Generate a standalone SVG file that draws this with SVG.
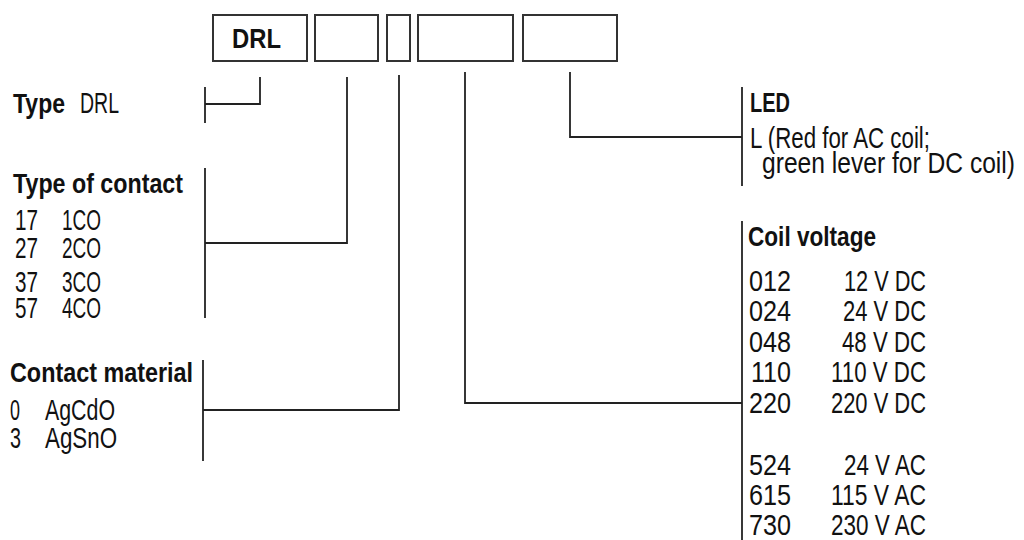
<svg xmlns="http://www.w3.org/2000/svg" width="1024" height="540" viewBox="0 0 1024 540">
<style>
.box{fill:#fff;stroke:#333;stroke-width:2}
.ln{fill:none;stroke:#222;stroke-width:1.8}
.b{font-family:"Liberation Sans",Arial,sans-serif;font-weight:bold;font-size:28px;fill:#111}
.r{font-family:"Liberation Sans",Arial,sans-serif;font-size:29px;fill:#111}
</style>
<rect width="1024" height="540" fill="#fff"/>
<g id="code-boxes">
<g id="box-drl"><rect class="box" x="213" y="15" width="94" height="46"/><text class="b" x="232" y="48" textLength="49" lengthAdjust="spacingAndGlyphs">DRL</text></g>
<g id="box-contact"><rect class="box" x="315" y="15" width="63" height="46"/></g>
<g id="box-material"><rect class="box" x="387" y="15" width="23" height="46"/></g>
<g id="box-voltage"><rect class="box" x="418" y="15" width="95" height="46"/></g>
<g id="box-led"><rect class="box" x="523" y="15" width="94" height="46"/></g>
</g>
<g id="connectors">
<polyline class="ln" points="260,77 260,104 205,104"/>
<line class="ln" x1="205" y1="87" x2="205" y2="123"/>
<polyline class="ln" points="347,77 347,243 205,243"/>
<line class="ln" x1="205" y1="168" x2="205" y2="318"/>
<polyline class="ln" points="399,75 399,410 203,410"/>
<line class="ln" x1="203" y1="360" x2="203" y2="461"/>
<polyline class="ln" points="465,72 465,403 742,403"/>
<line class="ln" x1="742" y1="221" x2="742" y2="540"/>
<polyline class="ln" points="570,72 570,137 742,137"/>
<line class="ln" x1="742" y1="87" x2="742" y2="186"/>
</g>
<g id="type">
<text class="b" x="13" y="113" textLength="52" lengthAdjust="spacingAndGlyphs">Type</text>
<text class="r" x="80" y="113" textLength="39" lengthAdjust="spacingAndGlyphs">DRL</text>
</g>
<g id="type-of-contact">
<text class="b" x="13" y="193" textLength="170" lengthAdjust="spacingAndGlyphs">Type of contact</text>
<text class="r" x="15" y="230" textLength="23" lengthAdjust="spacingAndGlyphs">17</text>
<text class="r" x="62" y="230" textLength="39" lengthAdjust="spacingAndGlyphs">1CO</text>
<text class="r" x="15" y="258" textLength="23" lengthAdjust="spacingAndGlyphs">27</text>
<text class="r" x="62" y="258" textLength="39" lengthAdjust="spacingAndGlyphs">2CO</text>
<text class="r" x="15" y="292" textLength="23" lengthAdjust="spacingAndGlyphs">37</text>
<text class="r" x="62" y="292" textLength="39" lengthAdjust="spacingAndGlyphs">3CO</text>
<text class="r" x="15" y="318" textLength="23" lengthAdjust="spacingAndGlyphs">57</text>
<text class="r" x="62" y="318" textLength="39" lengthAdjust="spacingAndGlyphs">4CO</text>
</g>
<g id="contact-material">
<text class="b" x="10" y="382" textLength="183" lengthAdjust="spacingAndGlyphs">Contact material</text>
<text class="r" x="10" y="420" textLength="10" lengthAdjust="spacingAndGlyphs">0</text>
<text class="r" x="45" y="420" textLength="70" lengthAdjust="spacingAndGlyphs">AgCdO</text>
<text class="r" x="10" y="448" textLength="11" lengthAdjust="spacingAndGlyphs">3</text>
<text class="r" x="45" y="448" textLength="72" lengthAdjust="spacingAndGlyphs">AgSnO</text>
</g>
<g id="led">
<text class="b" x="750" y="112" textLength="40" lengthAdjust="spacingAndGlyphs">LED</text>
<text class="r" x="750" y="148" textLength="180" lengthAdjust="spacingAndGlyphs">L (Red for AC coil;</text>
<text class="r" x="762" y="173" textLength="253" lengthAdjust="spacingAndGlyphs">green lever for DC coil)</text>
</g>
<g id="coil-voltage">
<text class="b" x="748" y="246" textLength="128" lengthAdjust="spacingAndGlyphs">Coil voltage</text>
<text class="r" x="749" y="291" textLength="42" lengthAdjust="spacingAndGlyphs">012</text>
<text class="r" x="844" y="291" textLength="82" lengthAdjust="spacingAndGlyphs">12 V DC</text>
<text class="r" x="749" y="321" textLength="42" lengthAdjust="spacingAndGlyphs">024</text>
<text class="r" x="843" y="321" textLength="83" lengthAdjust="spacingAndGlyphs">24 V DC</text>
<text class="r" x="749" y="352" textLength="42" lengthAdjust="spacingAndGlyphs">048</text>
<text class="r" x="842" y="352" textLength="84" lengthAdjust="spacingAndGlyphs">48 V DC</text>
<text class="r" x="751" y="382" textLength="40" lengthAdjust="spacingAndGlyphs">110</text>
<text class="r" x="831" y="382" textLength="95" lengthAdjust="spacingAndGlyphs">110 V DC</text>
<text class="r" x="749" y="413" textLength="42" lengthAdjust="spacingAndGlyphs">220</text>
<text class="r" x="831" y="413" textLength="95" lengthAdjust="spacingAndGlyphs">220 V DC</text>
<text class="r" x="749" y="475" textLength="42" lengthAdjust="spacingAndGlyphs">524</text>
<text class="r" x="844" y="475" textLength="82" lengthAdjust="spacingAndGlyphs">24 V AC</text>
<text class="r" x="749" y="505" textLength="42" lengthAdjust="spacingAndGlyphs">615</text>
<text class="r" x="831" y="505" textLength="95" lengthAdjust="spacingAndGlyphs">115 V AC</text>
<text class="r" x="749" y="535" textLength="42" lengthAdjust="spacingAndGlyphs">730</text>
<text class="r" x="831" y="535" textLength="95" lengthAdjust="spacingAndGlyphs">230 V AC</text>
</g>
</svg>
